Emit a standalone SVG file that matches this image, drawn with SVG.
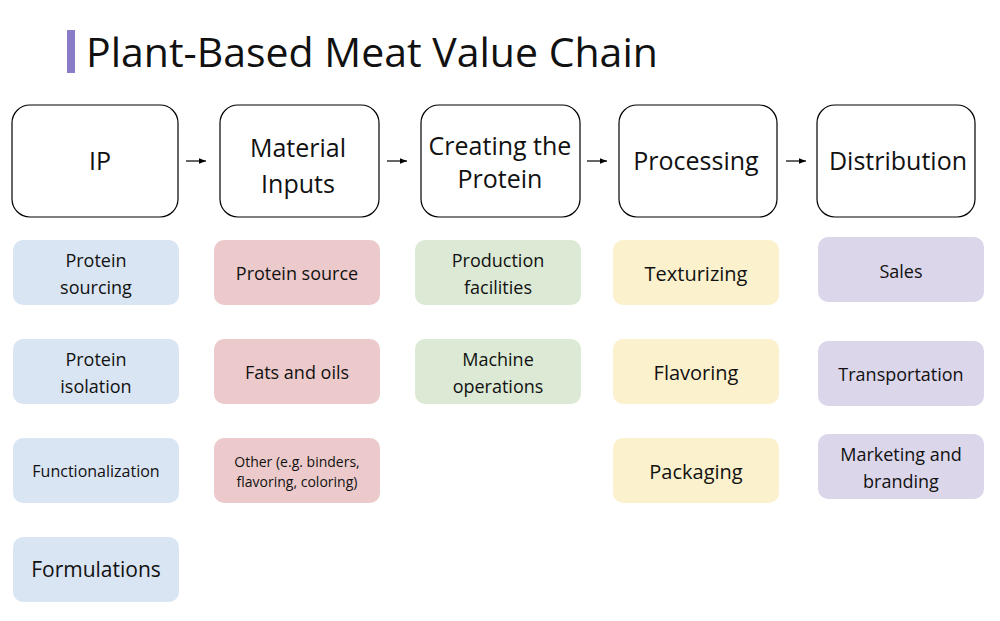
<svg xmlns="http://www.w3.org/2000/svg" width="1000" height="621" viewBox="0 0 1000 621">
<defs>
<marker id="ah" viewBox="0 0 10 10" refX="10" refY="5" markerWidth="6" markerHeight="6" orient="auto"><path d="M0,1 L10,5 L0,9 z" fill="#000"/></marker>
</defs>
<style>
text{font-family:"Open Sans","Liberation Sans",sans-serif;fill:#111;text-anchor:middle}
.h rect{fill:#fff;stroke:#000;stroke-width:1.2}
.h text{font-size:25px}
.s text{font-size:18px}
.b rect{fill:#dae5f3}.r rect{fill:#eccacb}.g rect{fill:#dcead5}.y rect{fill:#fcf1cd}.p rect{fill:#dcd6eb}
</style>
<rect width="1000" height="621" fill="#fff"/>
<rect x="67" y="30" width="8" height="43" fill="#8a7cc8"/>
<text x="86" y="67" style="font-size:41px;text-anchor:start">Plant-Based Meat Value Chain</text>
<g id="h1" class="h"><rect x="12" y="105" width="166" height="112" rx="18"/><text x="100" y="170">IP</text></g>
<g id="h2" class="h"><rect x="220" y="105" width="159" height="112" rx="18"/><text x="298" y="157">Material</text><text x="298" y="193">Inputs</text></g>
<g id="h3" class="h"><rect x="421" y="105" width="159" height="112" rx="18"/><text x="500" y="155">Creating the</text><text x="500" y="188">Protein</text></g>
<g id="h4" class="h"><rect x="619" y="105" width="158" height="112" rx="18"/><text x="696" y="170">Processing</text></g>
<g id="h5" class="h"><rect x="817" y="105" width="158" height="112" rx="18"/><text x="898" y="170">Distribution</text></g>
<g id="connectors" stroke="#000" stroke-width="1.2" marker-end="url(#ah)">
<line x1="186" y1="161" x2="206" y2="161"/><line x1="387" y1="161" x2="407" y2="161"/><line x1="587" y1="161" x2="607" y2="161"/><line x1="786" y1="161" x2="806" y2="161"/>
</g>
<g id="b1" class="s b"><rect x="13" y="240" width="166" height="65" rx="10"/><text x="96" y="267">Protein</text><text x="96" y="294">sourcing</text></g>
<g id="b2" class="s b"><rect x="13" y="339" width="166" height="65" rx="10"/><text x="96" y="366">Protein</text><text x="96" y="393">isolation</text></g>
<g id="b3" class="s b"><rect x="13" y="438" width="166" height="65" rx="10"/><text x="96" y="477" style="font-size:16px">Functionalization</text></g>
<g id="b4" class="s b"><rect x="13" y="537" width="166" height="65" rx="10"/><text x="96" y="577" style="font-size:21px">Formulations</text></g>
<g id="r1" class="s r"><rect x="214" y="240" width="166" height="65" rx="10"/><text x="297" y="280">Protein source</text></g>
<g id="r2" class="s r"><rect x="214" y="339" width="166" height="65" rx="10"/><text x="297" y="379">Fats and oils</text></g>
<g id="r3" class="s r"><rect x="214" y="438" width="166" height="65" rx="10"/><text x="297" y="467" style="font-size:14px">Other (e.g. binders,</text><text x="297" y="487" style="font-size:14px">flavoring, coloring)</text></g>
<g id="g1" class="s g"><rect x="415" y="240" width="166" height="65" rx="10"/><text x="498" y="267">Production</text><text x="498" y="294">facilities</text></g>
<g id="g2" class="s g"><rect x="415" y="339" width="166" height="65" rx="10"/><text x="498" y="366">Machine</text><text x="498" y="393">operations</text></g>
<g id="y1" class="s y"><rect x="613" y="240" width="166" height="65" rx="10"/><text x="696" y="281" style="font-size:20px">Texturizing</text></g>
<g id="y2" class="s y"><rect x="613" y="339" width="166" height="65" rx="10"/><text x="696" y="380" style="font-size:20px">Flavoring</text></g>
<g id="y3" class="s y"><rect x="613" y="438" width="166" height="65" rx="10"/><text x="696" y="479" style="font-size:20px">Packaging</text></g>
<g id="p1" class="s p"><rect x="818" y="237" width="166" height="65" rx="10"/><text x="901" y="278">Sales</text></g>
<g id="p2" class="s p"><rect x="818" y="341" width="166" height="65" rx="10"/><text x="901" y="381">Transportation</text></g>
<g id="p3" class="s p"><rect x="818" y="434" width="166" height="65" rx="10"/><text x="901" y="461">Marketing and</text><text x="901" y="488">branding</text></g>
</svg>
